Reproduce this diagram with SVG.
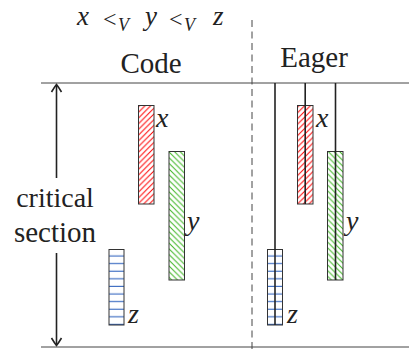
<svg xmlns="http://www.w3.org/2000/svg" width="409" height="352" viewBox="0 0 409 352">
<rect width="409" height="352" fill="#fff"/>
<defs>
  <pattern id="pRed" patternUnits="userSpaceOnUse" width="5.7" height="5.7">
    <rect width="5.7" height="5.7" fill="#fff"/>
    <path d="M-1,6.7 L6.7,-1 M-1,1 L1,-1 M4.7,6.7 L6.7,4.7" stroke="#ff0000" stroke-width="1"/>
  </pattern>
  <pattern id="pGreen" patternUnits="userSpaceOnUse" width="5.7" height="5.7">
    <rect width="5.7" height="5.7" fill="#fff"/>
    <path d="M-1,-1 L6.7,6.7 M4.7,-1 L6.7,1 M-1,4.7 L1,6.7" stroke="#3cb521" stroke-width="1"/>
  </pattern>
  <pattern id="pBlue" patternUnits="userSpaceOnUse" width="20" height="7.6" y="249">
    <rect width="20" height="7.6" fill="#fff"/>
    <line x1="0" y1="7" x2="20" y2="7" stroke="#3465c0" stroke-width="1.1"/>
  </pattern>
</defs>

<g id="title">
  <text style="font-family:'Liberation Serif',serif;font-style:italic" fill="#222" x="77" y="25" font-size="27">x</text>
  <text style="font-family:'Liberation Serif',serif" fill="#222" x="103" y="27" font-size="24">&lt;</text>
  <text style="font-family:'Liberation Serif',serif;font-style:italic" fill="#222" x="118" y="31" font-size="18">V</text>
  <text style="font-family:'Liberation Serif',serif;font-style:italic" fill="#222" x="145" y="25" font-size="27">y</text>
  <text style="font-family:'Liberation Serif',serif" fill="#222" x="169" y="27" font-size="24">&lt;</text>
  <text style="font-family:'Liberation Serif',serif;font-style:italic" fill="#222" x="184" y="31" font-size="18">V</text>
  <text style="font-family:'Liberation Serif',serif;font-style:italic" fill="#222" x="213" y="25" font-size="27">z</text>
</g>

<g id="connectors">
  <line stroke="#444" stroke-width="1" x1="41" y1="83" x2="409" y2="83"/>
  <line stroke="#444" stroke-width="1" x1="41" y1="347" x2="409" y2="347"/>
  <line x1="252" y1="20" x2="252" y2="352" stroke="#444" stroke-width="1" stroke-dasharray="7 4.5"/>
  <g id="arrow" stroke="#222" stroke-width="1.6" fill="none">
    <line x1="56.5" y1="85" x2="56.5" y2="178"/>
    <line x1="56.5" y1="253" x2="56.5" y2="345"/>
    <path d="M51.5,92 Q54.5,87 56.5,84.5 Q58.5,87 61.5,92"/>
    <path d="M51.5,338 Q54.5,343 56.5,345.5 Q58.5,343 61.5,338"/>
  </g>
</g>

<g id="label-code"><text style="font-family:'Liberation Serif',serif" fill="#222" font-size="29" x="151" y="73" text-anchor="middle">Code</text></g>
<g id="label-eager"><text style="font-family:'Liberation Serif',serif" fill="#222" font-size="29" x="314" y="67" text-anchor="middle">Eager</text></g>
<g id="label-critical">
  <text style="font-family:'Liberation Serif',serif" fill="#222" font-size="28" x="55" y="207" text-anchor="middle">critical</text>
  <text style="font-family:'Liberation Serif',serif" fill="#222" font-size="29" x="55" y="242" text-anchor="middle">section</text>
</g>

<g id="code-x">
  <rect stroke="#333" stroke-width="1" x="138.5" y="105.5" width="15.5" height="98.5" fill="url(#pRed)"/>
  <text style="font-family:'Liberation Serif',serif;font-style:italic" fill="#222" font-size="28" x="156" y="127">x</text>
</g>
<g id="code-y">
  <rect stroke="#333" stroke-width="1" x="169" y="151.5" width="15.5" height="128.5" fill="url(#pGreen)"/>
  <text style="font-family:'Liberation Serif',serif;font-style:italic" fill="#222" font-size="28" x="187" y="230">y</text>
</g>
<g id="code-z">
  <rect stroke="#333" stroke-width="1" x="109" y="249.5" width="15" height="75.5" fill="url(#pBlue)"/>
  <text style="font-family:'Liberation Serif',serif;font-style:italic" fill="#222" font-size="28" x="128" y="323">z</text>
</g>

<g id="eager-x">
  <rect stroke="#333" stroke-width="1" x="297.5" y="105.5" width="15.5" height="98.5" fill="url(#pRed)"/>
  <line stroke="#222" stroke-width="1.6" x1="305.2" y1="83" x2="305.2" y2="204"/>
  <text style="font-family:'Liberation Serif',serif;font-style:italic" fill="#222" font-size="28" x="316" y="127">x</text>
</g>
<g id="eager-y">
  <rect stroke="#333" stroke-width="1" x="327.5" y="151.5" width="15.5" height="128.5" fill="url(#pGreen)"/>
  <line stroke="#222" stroke-width="1.6" x1="335.5" y1="83" x2="335.5" y2="280"/>
  <text style="font-family:'Liberation Serif',serif;font-style:italic" fill="#222" font-size="28" x="346" y="230">y</text>
</g>
<g id="eager-z">
  <rect stroke="#333" stroke-width="1" x="267.5" y="249.5" width="15" height="75.5" fill="url(#pBlue)"/>
  <line stroke="#222" stroke-width="1.6" x1="275" y1="83" x2="275" y2="325"/>
  <text style="font-family:'Liberation Serif',serif;font-style:italic" fill="#222" font-size="28" x="287" y="323">z</text>
</g>
</svg>
